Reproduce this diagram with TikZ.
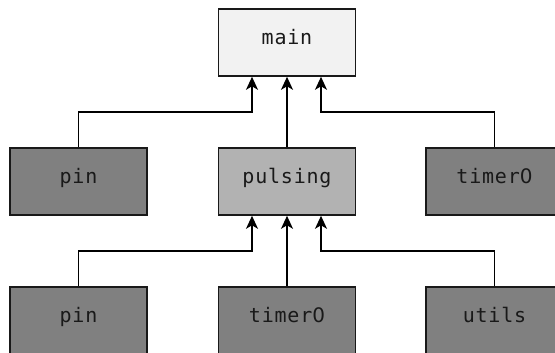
\documentclass[tikz,border=0pt]{standalone}
\usepackage{fontspec}
\setmonofont[LetterSpace=4]{DejaVu Sans Mono}
\newfontfamily\plainzero{DejaVu Sans}
\newcommand\zr{{\plainzero 0}}
\usetikzlibrary{arrows.meta}
\begin{document}
\begin{tikzpicture}[x=1pt,y=-1pt,
 every node/.style={font=\ttfamily\fontsize{20}{20}\selectfont,text=black!90},
 box/.style={draw=black!90,line width=1.6pt,minimum width=137pt,minimum height=67pt,
  inner sep=0pt,text height=1.45ex,text depth=.45ex},
 dep/.style={box,fill=black!50},
 arr/.style={-{Stealth[length=13pt,width=12pt,inset=3.5pt]},line width=1.6pt}]
\clip (0,0) rectangle (555,353);
% top
\node[box,fill=black!5] (main) at (287,42.5) {main};
% middle row
\foreach \n/\t/\x in {pinA/pin/78.5,tmrA/timer\zr/494.5}
 \node[dep] (\n) at (\x,181.5) {\t};
\node[box,fill=black!30] (puls) at (287,181.5) {pulsing};
% bottom row
\foreach \n/\t/\x in {pinB/pin/78.5,tmrB/timer\zr/287,utils/utils/494.5}
 \node[dep] (\n) at (\x,320.5) {\t};
\draw[arr] (pinA.north) -- ++(0,-35) -| ([xshift=-35]main.south);
\draw[arr] (puls) -- (main);
\draw[arr] (tmrA.north) -- ++(0,-35) -| ([xshift=34]main.south);
\draw[arr] (pinB.north) -- ++(0,-35) -| ([xshift=-35]puls.south);
\draw[arr] (tmrB) -- (puls);
\draw[arr] (utils.north) -- ++(0,-35) -| ([xshift=34]puls.south);
\end{tikzpicture}
\end{document}
